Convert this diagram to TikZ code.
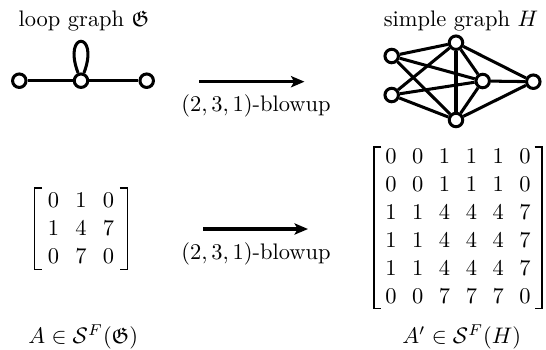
\documentclass[tikz,border=0pt]{standalone}
\usepackage{amsmath,amssymb}
\usetikzlibrary{matrix,arrows.meta}
\begin{document}
\begin{tikzpicture}[x=0.445pt,y=-0.445pt,
  vtx/.style={circle,draw,line width=1.35pt,fill=white,minimum size=6pt,inner sep=0pt},
  edge/.style={line width=1.35pt},
  blowarrow/.style={line width=1.35pt,-{Stealth[length=6pt,width=5pt,inset=1.4pt]}},
  mat/.style={matrix of math nodes,inner sep=0pt,
    nodes={inner sep=0pt,text height=6.44pt,text depth=0pt,minimum width=5pt,anchor=center}},
  bracket/.style={line width=0.65pt},
  lbl/.style={anchor=base,inner sep=0pt}]
\useasboundingbox (0,0) rectangle (546,349);

% titles
\node[lbl] (t1) at (84,26) {loop graph $\mathfrak{G}$};
\node[lbl] (t2) at (461,26) {simple graph $H$};

% loop graph
\node[vtx] (g1) at (19.3,80.7) {};
\node[vtx] (g2) at (81,80.7) {};
\node[vtx] (g3) at (146.7,80.7) {};
\draw[edge] (g1) -- (g2) -- (g3);
\draw[edge] (g2) .. controls +(-19,-50) and +(19,-50) .. (g2);

% simple graph H
\node[vtx] (a1) at (391.7,56) {};
\node[vtx] (a2) at (391.7,95) {};
\node[vtx] (b1) at (456,42.7) {};
\node[vtx] (b2) at (456,120) {};
\node[vtx] (c) at (482.7,81) {};
\node[vtx] (d) at (533.3,81.7) {};
\foreach \u in {a1,a2}
  \foreach \v in {b1,c,b2}
    \draw[edge] (\u) -- (\v);
\draw[edge] (b1) -- (b2);
\draw[edge] (b1) -- (c);
\draw[edge] (c) -- (b2);
\foreach \v in {b1,c,b2}
  \draw[edge] (\v) -- (d);

% arrows
\coordinate (ar1s) at (199.3,81.7);
\coordinate (ar1e) at (304.5,81.7);
\draw[blowarrow] (ar1s) -- (ar1e);
\node[lbl] (bl1) at (256,111) {$(2,3,1)$-blowup};

\coordinate (ar2s) at (203.3,229);
\coordinate (ar2e) at (308,229);
\draw[blowarrow] (ar2s) -- (ar2e);
\node[lbl] (bl2) at (256,259) {$(2,3,1)$-blowup};

% matrices
\matrix (L) [mat,column sep=7.24pt,row sep=5.87pt] at (81,228.35) {
  0 & 1 & 0\\
  1 & 4 & 7\\
  0 & 7 & 0\\
};
\draw[bracket] ([shift={(-5.2,-5.2)}]L.north west) -- ([shift={(-12.9,-5.2)}]L.north west)
  -- ([shift={(-12.9,6)}]L.south west) -- ([shift={(-5.2,6)}]L.south west);
\draw[bracket] ([shift={(5.2,-5.2)}]L.north east) -- ([shift={(12.9,-5.2)}]L.north east)
  -- ([shift={(12.9,6)}]L.south east) -- ([shift={(5.2,6)}]L.south east);

\matrix (R) [mat,column sep=6.93pt,row sep=6.02pt] at (458,226.7) {
  0 & 0 & 1 & 1 & 1 & 0\\
  0 & 0 & 1 & 1 & 1 & 0\\
  1 & 1 & 4 & 4 & 4 & 7\\
  1 & 1 & 4 & 4 & 4 & 7\\
  1 & 1 & 4 & 4 & 4 & 7\\
  0 & 0 & 7 & 7 & 7 & 0\\
};
\draw[bracket] ([shift={(-3.5,-2)}]R.north west) -- ([shift={(-11,-2)}]R.north west)
  -- ([shift={(-11,4)}]R.south west) -- ([shift={(-3.5,4)}]R.south west);
\draw[bracket] ([shift={(3.5,-2)}]R.north east) -- ([shift={(11,-2)}]R.north east)
  -- ([shift={(11,4)}]R.south east) -- ([shift={(3.5,4)}]R.south east);

% bottom labels
\node[lbl] (la) at (83.3,343.3) {$A\in\mathcal{S}^F(\mathfrak{G})$};
\node[lbl] (lb) at (461.8,343.3) {$A'\in\mathcal{S}^F(H)$};
\end{tikzpicture}
\end{document}
